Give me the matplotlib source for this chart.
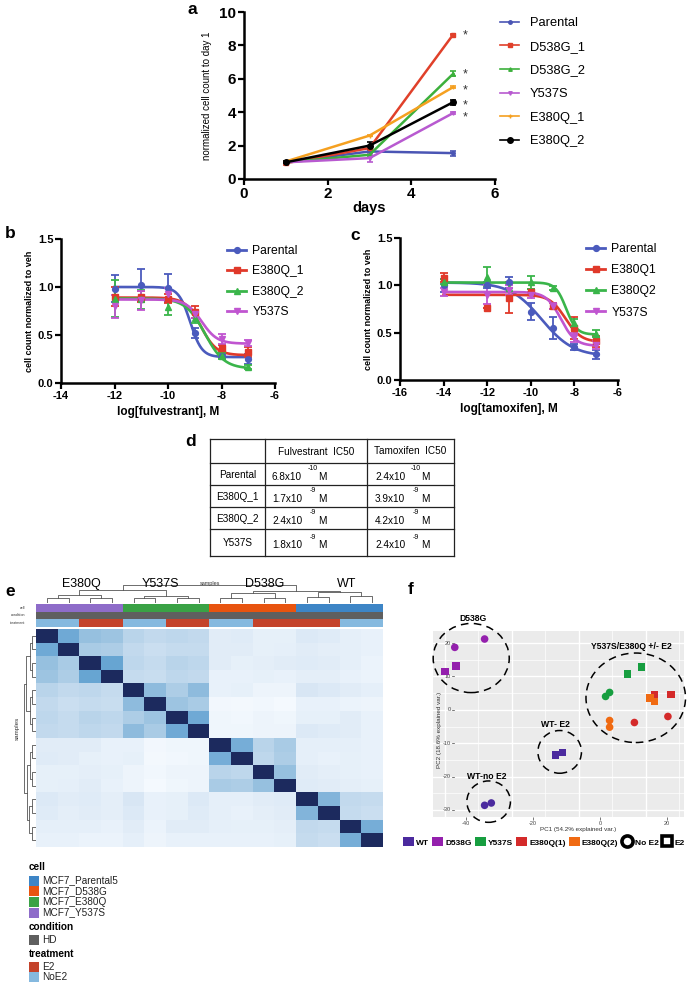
import numpy as np
import matplotlib
matplotlib.use('Agg')
import matplotlib.pyplot as plt
from matplotlib.patches import Ellipse, Patch, Rectangle
from matplotlib.lines import Line2D
from matplotlib.colors import LinearSegmentedColormap, to_rgb

plt.rcParams['font.family'] = ['Liberation Sans', 'DejaVu Sans']
plt.rcParams['axes.unicode_minus'] = False

# ---------------- data ----------------
# panel a: growth
days = [1, 3, 5]
growth_names = ['Parental', 'D538G_1', 'D538G_2', 'Y537S', 'E380Q_1', 'E380Q_2']
parental_a = [1.00, 1.65, 1.55]
d538g1_a = [0.95, 1.85, 8.65]
d538g2_a = [1.00, 1.45, 6.30]
y537s_a = [1.00, 1.25, 3.95]
e380q1_a = [1.05, 2.60, 5.50]
e380q2_a = [1.00, 2.00, 4.60]
parental_a_err = [0.05, 0.05, 0.15]
d538g1_a_err = [0.10, 0.10, 0.05]
d538g2_a_err = [0.05, 0.10, 0.15]
y537s_a_err = [0.05, 0.25, 0.05]
e380q1_a_err = [0.05, 0.05, 0.05]
e380q2_a_err = [0.05, 0.20, 0.15]
star_y = [8.8, 6.5, 5.55, 4.6, 3.9]

# panel b: fulvestrant
fulv_names = ['Parental', 'E380Q_1', 'E380Q_2', 'Y537S']
fulv_x = [-12, -11, -10, -9, -8, -7]
fulv_parental = [0.98, 1.02, 0.99, 0.52, 0.28, 0.25]
fulv_e380q1 = [0.90, 0.90, 0.88, 0.74, 0.36, 0.32]
fulv_e380q2 = [0.88, 0.87, 0.79, 0.68, 0.28, 0.17]
fulv_y537s = [0.80, 0.86, 0.93, 0.72, 0.46, 0.42]
fulv_parental_err = [0.14, 0.17, 0.15, 0.05, 0.02, 0.05]
fulv_e380q1_err = [0.10, 0.06, 0.05, 0.06, 0.04, 0.05]
fulv_e380q2_err = [0.19, 0.10, 0.08, 0.06, 0.03, 0.02]
fulv_y537s_err = [0.12, 0.10, 0.06, 0.04, 0.05, 0.03]
fulv_top = [1.00, 0.89, 0.88, 0.87]
fulv_bottom = [0.27, 0.29, 0.15, 0.41]
fulv_logic50 = [-9.17, -8.77, -8.62, -8.74]
fulv_hill = [2.0, 1.5, 1.2, 1.5]

# panel c: tamoxifen
tam_names = ['Parental', 'E380Q1', 'E380Q2', 'Y537S']
tam_x = [-14, -12, -11, -10, -9, -8, -7]
tam_parental = [1.00, 1.00, 1.03, 0.72, 0.55, 0.35, 0.27]
tam_e380q1 = [1.08, 0.76, 0.87, 0.93, 0.78, 0.55, 0.41]
tam_e380q2 = [1.04, 1.09, 0.97, 1.03, 0.97, 0.60, 0.49]
tam_y537s = [0.93, 0.90, 0.95, 0.90, 0.78, 0.45, 0.37]
tam_parental_err = [0.07, 0.03, 0.06, 0.09, 0.12, 0.03, 0.05]
tam_e380q1_err = [0.05, 0.00, 0.16, 0.03, 0.03, 0.12, 0.06]
tam_e380q2_err = [0.03, 0.10, 0.04, 0.07, 0.02, 0.04, 0.04]
tam_y537s_err = [0.04, 0.10, 0.05, 0.03, 0.03, 0.05, 0.04]
tam_top = [1.03, 0.90, 1.03, 0.93]
tam_bottom = [0.25, 0.40, 0.48, 0.36]
tam_logic50 = [-9.50, -8.41, -8.38, -8.62]
tam_hill = [0.6, 1.2, 1.8, 1.3]

# panel d: table
table_rows = ['Parental', 'E380Q_1', 'E380Q_2', 'Y537S']
fulv_ic50_mant = ['6.8x10', '1.7x10', '2.4x10', '1.8x10']
fulv_ic50_exp = ['-10', '-9', '-9', '-9']
tam_ic50_mant = ['2.4x10', '3.9x10', '4.2x10', '2.4x10']
tam_ic50_exp = ['-10', '-9', '-9', '-9']

# panel e: sample correlation heatmap
cell_type = ['Y537S'] * 4 + ['E380Q'] * 4 + ['D538G'] * 4 + ['Parental5'] * 4
condition = ['HD'] * 16
treatment = ['NoE2', 'NoE2', 'E2', 'E2', 'NoE2', 'NoE2', 'E2', 'E2',
             'NoE2', 'NoE2', 'E2', 'E2', 'E2', 'E2', 'NoE2', 'NoE2']
group_labels = ['E380Q', 'Y537S', 'D538G', 'WT']
corr = [
    [1, .70, .60, .58, .45, .40, .42, .40, .18, .20, .14, .14, .22, .20, .15, .12],
    [.70, 1, .55, .52, .40, .35, .38, .38, .18, .18, .14, .15, .18, .16, .15, .12],
    [.60, .55, 1, .72, .42, .38, .45, .42, .18, .14, .16, .18, .20, .18, .15, .10],
    [.58, .52, .72, 1, .38, .36, .42, .40, .12, .12, .14, .12, .16, .16, .12, .10],
    [.45, .40, .42, .38, 1, .62, .52, .62, .12, .14, .08, .08, .25, .22, .18, .15],
    [.40, .35, .38, .36, .62, 1, .58, .55, .04, .03, .05, .02, .12, .12, .10, .08],
    [.42, .38, .45, .42, .52, .58, 1, .70, .06, .05, .08, .06, .14, .14, .18, .12],
    [.40, .38, .42, .40, .62, .55, .70, 1, .06, .06, .08, .08, .22, .20, .18, .12],
    [.18, .18, .18, .12, .12, .04, .06, .06, 1, .68, .45, .55, .15, .15, .15, .12],
    [.20, .18, .14, .12, .14, .03, .05, .06, .68, 1, .42, .52, .15, .12, .14, .12],
    [.14, .14, .16, .14, .08, .05, .08, .08, .45, .42, 1, .60, .18, .16, .14, .12],
    [.14, .15, .18, .12, .08, .02, .06, .08, .55, .52, .60, 1, .20, .18, .16, .14],
    [.22, .18, .20, .16, .25, .12, .14, .22, .15, .15, .18, .20, 1, .65, .40, .38],
    [.20, .16, .18, .16, .22, .12, .14, .20, .15, .12, .16, .18, .65, 1, .38, .35],
    [.15, .15, .15, .12, .18, .10, .18, .18, .15, .14, .14, .16, .40, .38, 1, .68],
    [.12, .12, .10, .10, .15, .08, .12, .12, .12, .12, .12, .14, .38, .35, .68, 1],
]
# dendrogram merges (child a, child b, height)
col_merges = [(0, 1, 0.23), (2, 3, 0.25), (16, 17, 0.36),
              (4, 5, 0.25), (6, 7, 0.22), (19, 20, 0.32), (18, 21, 0.59),
              (8, 9, 0.23), (10, 11, 0.25), (23, 24, 0.45),
              (12, 13, 0.27), (14, 15, 0.30), (26, 27, 0.50), (25, 28, 0.55),
              (22, 29, 0.80)]
row_merges = [(0, 1, 0.22), (2, 3, 0.25), (16, 17, 0.40),
              (4, 5, 0.25), (6, 7, 0.22), (19, 20, 0.35), (18, 21, 0.60),
              (8, 9, 0.22), (10, 11, 0.25), (23, 24, 0.40),
              (12, 13, 0.25), (14, 15, 0.28), (26, 27, 0.45), (25, 28, 0.55),
              (22, 29, 0.78)]

# panel f: PCA
pc_groups = ['WT', 'D538G', 'Y537S', 'E380Q(1)', 'E380Q(2)']
wt_noe2_pc1 = [-34.5, -32.5]
wt_noe2_pc2 = [-28.6, -27.9]
wt_e2_pc1 = [-13.3, -11.3]
wt_e2_pc2 = [-13.5, -12.8]
d538g_noe2_pc1 = [-34.5, -43.4]
d538g_noe2_pc2 = [21.2, 18.7]
d538g_e2_pc1 = [-43.0, -46.3]
d538g_e2_pc2 = [13.2, 11.5]
y537s_noe2_pc1 = [2.8, 1.6]
y537s_noe2_pc2 = [5.2, 4.0]
y537s_e2_pc1 = [12.3, 8.1]
y537s_e2_pc2 = [12.8, 10.7]
e380q1_noe2_pc1 = [20.2, 10.2]
e380q1_noe2_pc2 = [-2.0, -3.8]
e380q1_e2_pc1 = [21.2, 16.2]
e380q1_e2_pc2 = [4.6, 4.5]
e380q2_noe2_pc1 = [2.8, 2.8]
e380q2_noe2_pc2 = [-3.2, -5.2]
e380q2_e2_pc1 = [14.9, 16.2]
e380q2_e2_pc2 = [3.5, 2.5]
ellipse_labels = ['D538G', 'Y537S/E380Q +/- E2', 'WT- E2', 'WT-no E2']
ellipse_cx = [-38.5, 10.6, -12.1, -33.3]
ellipse_cy = [15.5, 3.6, -12.6, -27.5]
ellipse_w = [22.7, 29.7, 13.0, 13.0]
ellipse_h = [20.7, 26.8, 12.8, 12.4]
ellipse_label_x = [-38.0, 9.3, -13.4, -33.8]
ellipse_label_y = [27.2, 18.9, -4.5, -20.0]

# ---------------- figure ----------------
W, H = 691, 983
fig = plt.figure(figsize=(W / 100, H / 100), dpi=100)


def ax_px(l, t, r, b):
    a = fig.add_axes([l / W, 1 - b / H, (r - l) / W, (b - t) / H])
    a.set_facecolor('none')
    return a


def fx(x):
    return x / W


def fy(y):
    return 1 - y / H


def prism_style(ax, labsize):
    for s in ['top', 'right']:
        ax.spines[s].set_visible(False)
    for s in ['left', 'bottom']:
        ax.spines[s].set_linewidth(1.8)
    ax.tick_params(width=1.6, length=4, labelsize=labsize, pad=1.5)
    for lab in ax.get_xticklabels() + ax.get_yticklabels():
        lab.set_fontweight('bold')


# ---- panel a ----
ax = ax_px(244, 12, 495, 179)
a_vals = [parental_a, d538g1_a, d538g2_a, y537s_a, e380q1_a, e380q2_a]
a_errs = [parental_a_err, d538g1_a_err, d538g2_a_err, y537s_a_err, e380q1_a_err, e380q2_a_err]
a_cols = ['#4a55b4', '#e0402a', '#3cb03c', '#b85ad0', '#f5a020', '#000000']
a_mk = ['o', 's', '^', 'v', '+', 'o']
a_ms = [2.5, 2.5, 2.5, 2.5, 3, 4]
for v, e, c, m, ms, n in zip(a_vals, a_errs, a_cols, a_mk, a_ms, growth_names):
    ax.errorbar(days, v, yerr=e, color=c, marker=m, ms=ms, lw=1.8, capsize=2.5,
                elinewidth=1.2, capthick=1.2, label=n)
for yy in star_y:
    ax.text(5.22, yy - 0.22, '*', fontsize=9, color='#333333', ha='left', va='center')
ax.set_xlim(0, 6)
ax.set_ylim(0, 10)
ax.set_xticks([0, 2, 4, 6])
ax.set_yticks([0, 2, 4, 6, 8, 10])
prism_style(ax, 11)
ax.set_ylabel('normalized cell count to day 1', fontsize=7, labelpad=5)
ax.set_xlabel('days', fontsize=10.5, fontweight='bold', labelpad=0)
hd = [Line2D([], [], color=c, marker=m, ms=ms, lw=1.2) for c, m, ms in zip(a_cols, a_mk, a_ms)]
fig.legend(hd, growth_names, loc='upper left', bbox_to_anchor=(fx(500), fy(17)),
           frameon=False, fontsize=9.3, handlelength=1.5, handletextpad=0.8,
           labelspacing=0.9, borderaxespad=0, borderpad=0)


# ---- panels b and c ----
def four_pl(x, top, bottom, logic50, hill):
    return bottom + (top - bottom) / (1 + 10 ** ((x - logic50) * hill))


bc_cols = ['#4b5bbd', '#e0392a', '#3ab54a', '#c055d0']
bc_mk = ['o', 's', '^', 'v']


def dose_panel(box, xs, series, errs, tops, bots, ics, hills, names, xlim, xticks, xlabel,
               leg_xy, spacing):
    ax = ax_px(*box)
    xx = np.linspace(min(xs), max(xs), 300)
    for v, e, c, m, t, b, ic, h in zip(series, errs, bc_cols, bc_mk, tops, bots, ics, hills):
        ax.plot(xx, four_pl(xx, t, b, ic, h), color=c, lw=1.9)
        ax.errorbar(xs, v, yerr=e, color=c, marker=m, ms=4.2, lw=0, elinewidth=1.3,
                    capsize=3, capthick=1.3)
    ax.set_xlim(*xlim)
    ax.set_ylim(0, 1.5)
    ax.set_xticks(xticks)
    ax.set_yticks([0.0, 0.5, 1.0, 1.5])
    ax.set_yticklabels(['0.0', '0.5', '1.0', '1.5'])
    prism_style(ax, 8)
    ax.set_ylabel('cell count normalized to veh', fontsize=6.5, fontweight='bold', labelpad=3)
    ax.set_xlabel(xlabel, fontsize=8.5, fontweight='bold', labelpad=4)
    hd = [Line2D([], [], color=c, marker=m, ms=4.2, lw=2) for c, m in zip(bc_cols, bc_mk)]
    fig.legend(hd, names, loc='upper left', bbox_to_anchor=leg_xy, frameon=False,
               fontsize=8.7, handlelength=1.6, handletextpad=0.5, labelspacing=spacing,
               borderaxespad=0, borderpad=0)


dose_panel((61, 239, 275, 383), fulv_x,
           [fulv_parental, fulv_e380q1, fulv_e380q2, fulv_y537s],
           [fulv_parental_err, fulv_e380q1_err, fulv_e380q2_err, fulv_y537s_err],
           fulv_top, fulv_bottom, fulv_logic50, fulv_hill, fulv_names,
           (-14, -6), [-14, -12, -10, -8, -6], 'log[fulvestrant], M', (fx(227), fy(245)), 0.7)
dose_panel((400, 238, 618, 380), tam_x,
           [tam_parental, tam_e380q1, tam_e380q2, tam_y537s],
           [tam_parental_err, tam_e380q1_err, tam_e380q2_err, tam_y537s_err],
           tam_top, tam_bottom, tam_logic50, tam_hill, tam_names,
           (-16, -6), [-16, -14, -12, -10, -8, -6], 'log[tamoxifen], M', (fx(586), fy(243)), 0.76)

# ---- panel e ----
cell_cols = {'Parental5': '#3d85c6', 'D538G': '#e8540f', 'E380Q': '#3aa245', 'Y537S': '#8e6cc9'}
cond_cols = {'HD': '#5f5f5f'}
treat_cols = {'E2': '#c4432b', 'NoE2': '#85b9df'}

hm_cmap = LinearSegmentedColormap.from_list(
    'hm', [(0.0, '#f7fbff'), (0.3, '#d3e3f3'), (0.55, '#a9cbe5'), (0.75, '#5d9fd0'),
           (0.85, '#3f7fbf'), (1.0, '#1c2a5e')])
axh = ax_px(36, 629, 383, 847)
axh.imshow(np.array(corr), cmap=hm_cmap, vmin=0, vmax=1, aspect='auto', interpolation='nearest')
axh.set_xticks([])
axh.set_yticks([])
for s in axh.spines.values():
    s.set_visible(False)

axa = ax_px(36, 604, 383, 627)
ann = np.array([[to_rgb(cell_cols[c]) for c in cell_type],
                [to_rgb(cond_cols[c]) for c in condition],
                [to_rgb(treat_cols[c]) for c in treatment]])
axa.imshow(ann, aspect='auto', interpolation='nearest')
axa.set_xticks([])
axa.set_yticks([])
for s in axa.spines.values():
    s.set_visible(False)


def dendro_segments(merges, n):
    pos = {i: i + 0.5 for i in range(n)}
    hgt = {i: 0.0 for i in range(n)}
    segs = []
    for k, (a, b, h) in enumerate(merges):
        node = n + k
        segs.append(([pos[a], pos[a], pos[b], pos[b]], [hgt[a], h, h, hgt[b]]))
        pos[node] = (pos[a] + pos[b]) / 2
        hgt[node] = h
    return segs


axd = ax_px(36, 581, 383, 603)
for xs_, hs_ in dendro_segments(col_merges, 16):
    axd.plot(xs_, hs_, color='#555555', lw=0.6)
axd.set_xlim(0, 16)
axd.set_ylim(0, 1)
axd.axis('off')

axr = ax_px(20, 629, 36, 847)
for ps_, hs_ in dendro_segments(row_merges, 16):
    axr.plot(hs_, ps_, color='#555555', lw=0.6)
axr.set_xlim(1, 0)
axr.set_ylim(16, 0)
axr.axis('off')

# ---- panel f ----
axf = ax_px(433, 631, 684, 817)
axf.set_facecolor('#ebebeb')
axf.set_xlim(-49.9, 25.0)
axf.set_ylim(-32.1, 23.6)
grid_x_major = [-46.4, -26.4, -6.4, 13.7]
grid_x_minor = [-36.4, -16.4, 3.6, 23.6]
grid_y_major = [-30, -20, -10, 0, 10, 20]
grid_y_minor = [-25, -15, -5, 5, 15]
for g in grid_x_minor:
    axf.axvline(g, color='white', lw=0.5, zorder=0)
for g in grid_y_minor:
    axf.axhline(g, color='white', lw=0.5, zorder=0)
for g in grid_x_major:
    axf.axvline(g, color='white', lw=1.0, zorder=0)
for g in grid_y_major:
    axf.axhline(g, color='white', lw=1.0, zorder=0)
for s in axf.spines.values():
    s.set_visible(False)
axf.set_xticks([-40, -20, 0, 20])
axf.set_xticklabels(['-40', '-20', '0', '20'])
axf.tick_params(axis='x', labelsize=4, length=2, width=0.5, pad=1, colors='#444444')
axf.set_yticks([])
ytr = axf.get_yaxis_transform()
for g in grid_y_major:
    axf.text(0.072, g, str(g), transform=ytr, ha='right', va='center', fontsize=4, color='#444444')
    axf.plot([0.075, 0.085], [g, g], transform=ytr, color='#444444', lw=0.5)

pc_cols = {'WT': '#4b2a9e', 'D538G': '#9420ad', 'Y537S': '#179e40',
           'E380Q(1)': '#d42a2a', 'E380Q(2)': '#f06a12'}
pts = [('WT', wt_noe2_pc1, wt_noe2_pc2, 'o'), ('WT', wt_e2_pc1, wt_e2_pc2, 's'),
       ('D538G', d538g_noe2_pc1, d538g_noe2_pc2, 'o'), ('D538G', d538g_e2_pc1, d538g_e2_pc2, 's'),
       ('Y537S', y537s_noe2_pc1, y537s_noe2_pc2, 'o'), ('Y537S', y537s_e2_pc1, y537s_e2_pc2, 's'),
       ('E380Q(1)', e380q1_noe2_pc1, e380q1_noe2_pc2, 'o'), ('E380Q(1)', e380q1_e2_pc1, e380q1_e2_pc2, 's'),
       ('E380Q(2)', e380q2_noe2_pc1, e380q2_noe2_pc2, 'o'), ('E380Q(2)', e380q2_e2_pc1, e380q2_e2_pc2, 's')]
for g, xs_, ys_, m in pts:
    axf.scatter(xs_, ys_, s=30, marker=m, color=pc_cols[g], edgecolors='none', zorder=3, clip_on=False)
for cx, cy, w, h in zip(ellipse_cx, ellipse_cy, ellipse_w, ellipse_h):
    axf.add_patch(Ellipse((cx, cy), w, h, fill=False, ls=(0, (5, 3.5)), lw=1.1,
                          color='black', clip_on=False, zorder=4))
for lab, lx, ly in zip(ellipse_labels, ellipse_label_x, ellipse_label_y):
    axf.text(lx, ly, lab, fontsize=6.2, fontweight='bold', ha='center', va='center', clip_on=False)

fig.text(fx(578), fy(829), 'PC1 (54.2% explained var.)', fontsize=4.5, ha='center', va='center',
         color='#333333')
fig.text(fx(440), fy(730), 'PC2 (18.6% explained var.)', fontsize=4.5, ha='center', va='center',
         rotation=90, color='#333333')

f_handles = [Patch(facecolor=pc_cols[g], edgecolor='none') for g in pc_groups]
f_handles += [Line2D([], [], lw=0, marker='o', ms=8, mfc='white', mec='black', mew=2.6),
              Line2D([], [], lw=0, marker='s', ms=7, mfc='white', mec='black', mew=2.6)]
fig.legend(f_handles, pc_groups + ['No E2', 'E2'], loc='center left',
           bbox_to_anchor=(fx(403), fy(842)), ncol=7, frameon=False,
           prop={'size': 6, 'weight': 'bold'}, handlelength=1.3, handleheight=1.3,
           handletextpad=0.25, columnspacing=0.4, borderaxespad=0, borderpad=0)

# ---------------- overlay: labels, table, heatmap legend ----------------
ov = fig.add_axes([0, 0, 1, 1])
ov.set_xlim(0, W)
ov.set_ylim(H, 0)
ov.axis('off')

for lab, x, y in [('a', 188, 9), ('b', 5, 234), ('c', 350, 236), ('d', 185, 441),
                  ('e', 5, 592), ('f', 408, 590)]:
    ov.text(x, y, lab, fontsize=12.5, fontweight='bold', ha='left', va='center')

# table
tab_x = [210, 265, 367, 454]
tab_y = [439, 463, 485, 507, 529, 556]
for x in tab_x:
    ov.plot([x, x], [tab_y[0], tab_y[-1]], color='#222222', lw=0.9)
for y in tab_y:
    ov.plot([tab_x[0], tab_x[-1]], [y, y], color='#222222', lw=0.9)
ov.text(316, 452, 'Fulvestrant  IC50', fontsize=7.2, ha='center', va='center')
ov.text(410, 451, 'Tamoxifen  IC50', fontsize=7.2, ha='center', va='center')
for i, r in enumerate(table_rows):
    yc = (tab_y[i + 1] + tab_y[i + 2]) / 2
    ov.text(237.5, yc + 1, r, fontsize=7.2, ha='center', va='center')
    for x0, man, ex in [(272, fulv_ic50_mant[i], fulv_ic50_exp[i]),
                        (375, tam_ic50_mant[i], tam_ic50_exp[i])]:
        ov.text(x0, yc + 3, man, fontsize=7.2, ha='left', va='center')
        ov.text(x0 + 36 + (0 if len(ex) == 3 else 2), yc - 5, ex, fontsize=5, ha='left', va='center')
        ov.text(x0 + 46, yc + 3, 'M', fontsize=7.2, ha='left', va='center')

# heatmap text
group_x = [81, 160, 265, 347]
for g, x in zip(group_labels, group_x):
    ov.text(x, 584, g, fontsize=9, ha='center', va='center')
ov.text(210, 583, 'samples', fontsize=4, ha='center', va='center', color='#333333')
ov.text(17, 728, 'samples', fontsize=4.5, ha='center', va='center', rotation=90, color='#333333')
for lab, y in [('cell', 608), ('condition', 615.5), ('treatment', 623)]:
    ov.text(25, y, lab, fontsize=2.6, ha='right', va='center', color='#333333')

# heatmap legend
leg_items = [('head', 'cell', 867),
             ('item', 'MCF7_Parental5', 880.5, cell_cols['Parental5']),
             ('item', 'MCF7_D538G', 891.2, cell_cols['D538G']),
             ('item', 'MCF7_E380Q', 901.9, cell_cols['E380Q']),
             ('item', 'MCF7_Y537S', 912.6, cell_cols['Y537S']),
             ('head', 'condition', 927),
             ('item', 'HD', 940, cond_cols['HD']),
             ('head', 'treatment', 954),
             ('item', 'E2', 966.5, treat_cols['E2']),
             ('item', 'NoE2', 977, treat_cols['NoE2'])]
for it in leg_items:
    if it[0] == 'head':
        ov.text(29, it[2], it[1], fontsize=7.2, fontweight='bold', ha='left', va='center')
    else:
        ov.add_patch(Rectangle((29.5, it[2] - 5), 10, 10, facecolor=it[3], edgecolor='none'))
        ov.text(42, it[2], it[1], fontsize=7.2, ha='left', va='center', color='#222222')

fig.savefig('out.png', dpi=100)
